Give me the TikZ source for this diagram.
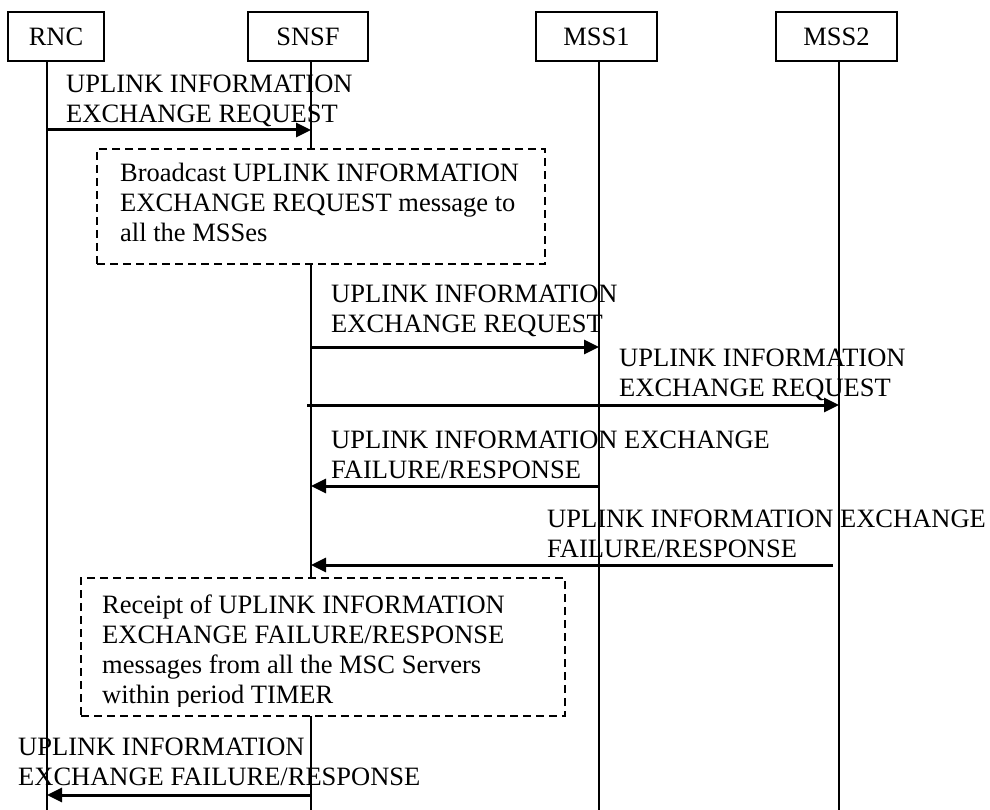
\documentclass[tikz,border=0pt]{standalone}
\usepackage{fontspec}
\setmainfont{Liberation Serif}
\usetikzlibrary{arrows.meta}

\begin{document}
\begin{tikzpicture}[x=1pt,y=-1pt,
    entity/.style={draw,line width=1.5pt,minimum height=49pt,inner sep=0pt,fill=white,font=\fontsize{26.5}{30}\selectfont},
    life/.style={line width=2pt},
    msg/.style={line width=3pt,-{Triangle[length=15pt,width=14pt]}},
    lbl/.style={anchor=base west,inner sep=0pt,align=left,font=\fontsize{26.5}{30}\selectfont},
    note/.style={draw,dash pattern=on 8pt off 5pt,line width=1.6pt,fill=white,inner sep=0pt}]
    \useasboundingbox (0,0) rectangle (990,810);
    % Lifelines
    \foreach \n/\x in {rnc/47, snsf/311, mss1/599, mss2/839} {
        \coordinate (\n-top) at (\x,61);
        \coordinate (\n-bot) at (\x,810);
        \draw[life] (\n-top) -- (\n-bot);
    }
    % Entities
    \node[entity,minimum width=96pt] (rnc) at (56,36.5) {RNC};
    \node[entity,minimum width=120pt] (snsf) at (308,36.5) {SNSF};
    \node[entity,minimum width=121pt] (mss1) at (596.5,36.5) {MSS1};
    \node[entity,minimum width=121pt] (mss2) at (836.5,36.5) {MSS2};
    % Request from RNC
    \node[lbl] (req0) at (66,123) {UPLINK INFORMATION\\EXCHANGE REQUEST};
    \coordinate (req0a) at (47,130);
    \coordinate (req0b) at (311,130);
    \draw[msg] (req0a) -- (req0b);
    % Broadcast note
    \node[note,minimum width=448pt,minimum height=115pt] (bcast) at (321,206.5) {};
    \node[lbl] (bcasttxt) at (120,242) {Broadcast UPLINK INFORMATION\\EXCHANGE REQUEST message to\\all the MSSes};
    % Requests to the MSSes
    \node[lbl] (req1) at (331,332) {UPLINK INFORMATION\\EXCHANGE REQUEST};
    \coordinate (req1a) at (311,347);
    \coordinate (req1b) at (599,347);
    \draw[msg] (req1a) -- (req1b);
    \node[lbl] (req2) at (619,396) {UPLINK INFORMATION\\EXCHANGE REQUEST};
    \coordinate (req2a) at (307,405);
    \coordinate (req2b) at (839,405);
    \draw[msg] (req2a) -- (req2b);
    % Answers from the MSSes
    \node[lbl] (rsp1) at (331,478) {UPLINK INFORMATION EXCHANGE\\FAILURE/RESPONSE};
    \coordinate (rsp1a) at (599,486);
    \coordinate (rsp1b) at (311,486);
    \draw[msg] (rsp1a) -- (rsp1b);
    \node[lbl] (rsp2) at (547,557) {UPLINK INFORMATION EXCHANGE\\FAILURE/RESPONSE};
    \coordinate (rsp2a) at (833,565);
    \coordinate (rsp2b) at (311,565);
    \draw[msg] (rsp2a) -- (rsp2b);
    % Receipt note
    \node[note,minimum width=484pt,minimum height=138pt] (rcpt) at (323,647) {};
    \begin{scope}
        \clip (rcpt.north west) rectangle ([yshift=10pt]rcpt.south east);
        \node[lbl] (rcpttxt) at (102,703) {Receipt of UPLINK INFORMATION\\EXCHANGE FAILURE/RESPONSE\\messages from all the MSC Servers\\within period TIMER};
    \end{scope}
    % Answer to RNC
    \node[lbl] (rsp0) at (18,785) {UPLINK INFORMATION\\EXCHANGE FAILURE/RESPONSE};
    \coordinate (rsp0a) at (311,795);
    \coordinate (rsp0b) at (47,795);
    \draw[msg] (rsp0a) -- (rsp0b);
\end{tikzpicture}
\end{document}
